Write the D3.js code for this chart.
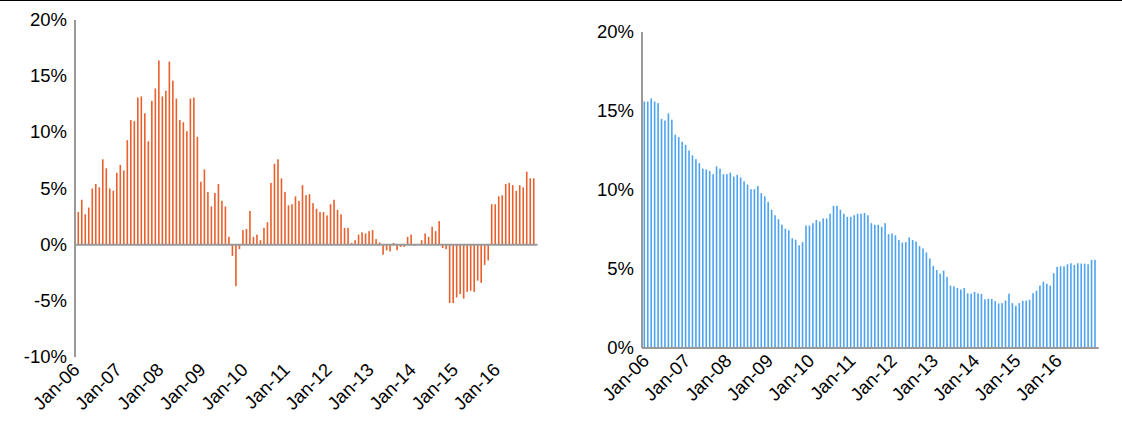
<!DOCTYPE html>
<html>
<head>
<meta charset="utf-8">
<script src="https://cdn.jsdelivr.net/npm/d3@7"></script>
<style>
body { margin: 0; background: #fff; }
text { font-family: "Liberation Sans", Arial, sans-serif; font-size: 18.5px; fill: #000; }
</style>
</head>
<body>
<script>
// monthly, Jan-06 .. Dec-16
var leftValues = [
	0, 2.9, 4.0, 2.7, 3.3, 5.0, 5.4, 5.1, 7.6, 6.8, 5.0, 4.8, 6.4, 7.1, 6.6, 9.3, 11.1, 11.0, 13.1, 13.2,
	11.7, 9.2, 12.8, 13.9, 16.4, 13.2, 13.7, 16.3, 14.6, 13.0, 11.1, 10.9, 10.1, 13.0, 13.1, 9.6, 5.6, 6.7, 4.7, 3.4,
	4.6, 5.4, 3.9, 3.4, 0.7, -1.0, -3.7, -0.4, 1.3, 1.4, 3.0, 0.7, 0.9, 0.4, 1.5, 2.0, 5.5, 7.2, 7.6, 5.9,
	4.7, 3.5, 3.6, 4.3, 3.9, 5.3, 4.4, 4.5, 3.7, 3.2, 2.9, 2.9, 2.6, 3.6, 4.0, 3.1, 2.7, 1.5, 1.5, 0.15,
	0.4, 0.9, 1.1, 1.0, 1.2, 1.3, 0.5, 0.2, -0.9, -0.5, -0.6, 0.15, -0.5, -0.2, -0.2, 0.7, 0.9, -0.1, 0, 0.4,
	1.0, 0.7, 1.6, 1.2, 2.1, -0.3, -0.4, -5.2, -5.2, -4.7, -4.4, -4.8, -4.2, -4.1, -4.2, -3.2, -3.4, -1.8, -1.4, 3.6,
	3.6, 4.3, 4.4, 5.4, 5.5, 5.3, 4.8, 5.3, 5.1, 6.5, 5.9, 5.9
];
var rightValues = [
	15.6, 15.6, 15.8, 15.6, 15.5, 14.5, 14.4, 14.85, 14.45, 13.5, 13.35, 13.05, 12.85, 12.5, 12.2, 11.95, 11.7, 11.35, 11.3, 11.2,
	11.0, 11.5, 11.35, 11.0, 11.0, 11.1, 10.85, 10.95, 10.8, 10.55, 10.35, 10.05, 10.05, 10.25, 9.8, 9.6, 9.25, 8.75, 8.4, 8.15,
	7.8, 7.55, 7.45, 6.95, 6.85, 6.5, 6.7, 7.75, 7.75, 7.9, 8.1, 8.0, 8.2, 8.2, 8.5, 9.0, 9.0, 8.75, 8.5, 8.3,
	8.3, 8.4, 8.5, 8.5, 8.55, 8.4, 7.9, 7.8, 7.8, 7.67, 7.9, 7.2, 7.25, 7.13, 6.84, 6.67, 6.7, 7.0, 6.84, 6.74,
	6.45, 6.3, 6.05, 5.67, 5.2, 4.94, 4.7, 4.9, 4.5, 3.95, 3.9, 3.8, 3.7, 3.8, 3.46, 3.44, 3.55, 3.46, 3.42, 3.08,
	3.12, 3.1, 2.97, 2.82, 2.84, 3.0, 3.44, 2.84, 2.67, 2.84, 2.99, 3.0, 3.05, 3.47, 3.63, 3.95, 4.2, 4.07, 3.95, 4.73,
	5.13, 5.17, 5.17, 5.3, 5.36, 5.25, 5.36, 5.34, 5.34, 5.3, 5.58, 5.58
];
var yearLabels = ['Jan-06','Jan-07','Jan-08','Jan-09','Jan-10','Jan-11','Jan-12','Jan-13','Jan-14','Jan-15','Jan-16'];
var leftTicks = [-10, -5, 0, 5, 10, 15, 20];
var rightTicks = [0, 5, 10, 15, 20];

var svg = d3.select('body').append('svg')
	.attr('width', 1122)
	.attr('height', 425);

svg.append('line')
	.attr('x1', 0).attr('x2', 1122).attr('y1', 0.5).attr('y2', 0.5)
	.attr('stroke', '#000').attr('stroke-width', 1);

var months = d3.range(leftValues.length);

var drawPanel = function(vals, ticks, opt) {
	var x = d3.scaleBand().domain(months).range([opt.x0, opt.x1]);
	var y = d3.scaleLinear().domain([ticks[0], ticks[ticks.length - 1]]).range([opt.yb, opt.yt]);
	var g = svg.append('g');

	g.selectAll('rect.bar')
		.data(vals).enter()
		.append('rect')
		.attr('class', 'bar')
		.attr('x', function(d, i) { return x(i) + x.bandwidth() / 2 - 0.8; })
		.attr('width', 1.6)
		.attr('y', function(d) { return y(Math.max(0, d)); })
		.attr('height', function(d) { return Math.abs(y(d) - y(0)); })
		.attr('fill', opt.colour);

	// axes
	g.append('line')
		.attr('x1', opt.axisX).attr('x2', opt.axisX)
		.attr('y1', y(ticks[ticks.length - 1])).attr('y2', y(ticks[0]))
		.attr('stroke', '#999').attr('stroke-width', 2);
	g.append('line')
		.attr('x1', opt.axisX).attr('x2', opt.x1 + 2)
		.attr('y1', y(0)).attr('y2', y(0))
		.attr('stroke', '#999').attr('stroke-width', 2);

	g.selectAll('text.yl')
		.data(ticks).enter()
		.append('text')
		.attr('class', 'yl')
		.attr('x', opt.axisX - 8)
		.attr('y', function(d) { return y(d) + 6; })
		.attr('text-anchor', 'end')
		.text(function(d) { return d + '%'; });

	g.selectAll('text.xl')
		.data(yearLabels).enter()
		.append('text')
		.attr('class', 'xl')
		.attr('text-anchor', 'end')
		.attr('transform', function(d, i) {
			var px = x(i * 12) + x.bandwidth() / 2 + 6;
			return 'translate(' + px + ',' + (y(ticks[0]) + 14) + ') rotate(-45)';
		})
		.text(function(d) { return d; });
};

drawPanel(leftValues, leftTicks, {x0: 73, x1: 535.5, yb: 357, yt: 20, axisX: 75, colour: '#e8602c'});
drawPanel(rightValues, rightTicks, {x0: 642.6, x1: 1096.7, yb: 348, yt: 32, axisX: 642, colour: '#4da3f0'});
</script>
</body>
</html>
